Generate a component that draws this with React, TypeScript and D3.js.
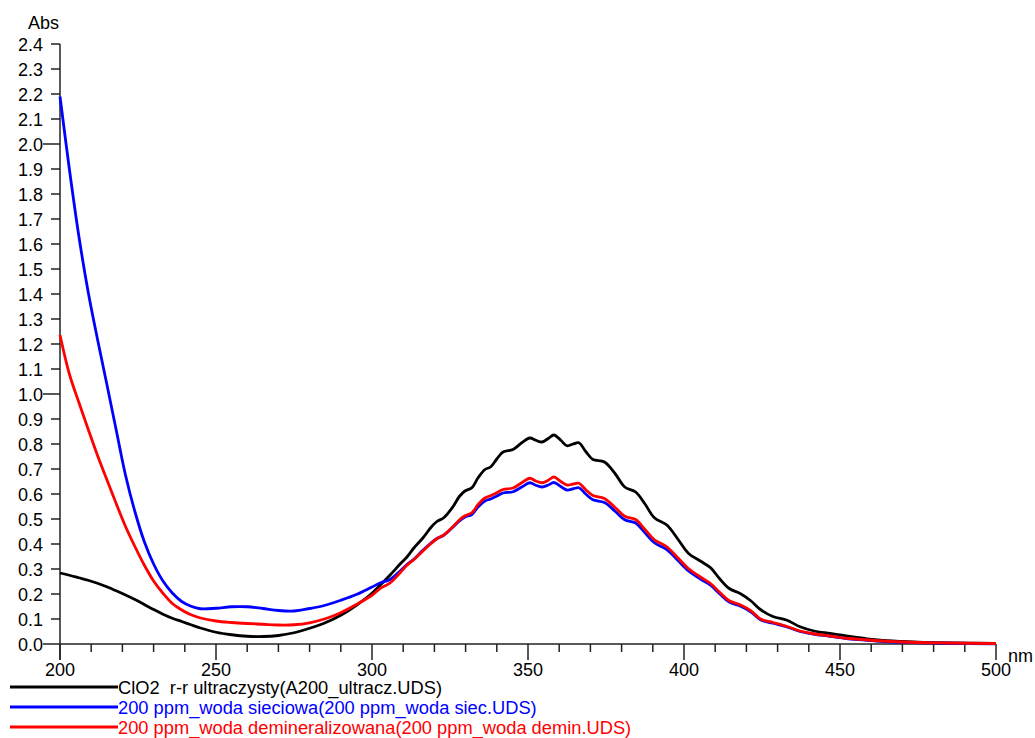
import React from "react";
import * as d3 from "d3";

const wavelengths = [
  200, 203, 206, 209, 212, 215, 218, 221, 224, 227, 230, 233, 236, 239, 242, 245,
  250, 255, 260, 265, 270, 275, 280, 285, 290, 295,
  300, 302.6, 305.8, 309, 311.2, 313.5, 316.3, 319, 320.8, 323, 326, 328, 329.8, 332, 334, 336.2, 338, 340, 342, 345.2, 348, 350.6, 352.5, 354.5, 356.5, 358.3, 360.5, 362.5, 364.5, 366.3,
  368.5, 370.8, 374.5, 378, 381, 384.5, 387.5, 390.5, 394.5, 398, 401.5, 405.5, 408.5, 411.5, 414.5, 418, 421.5, 424.5, 428.5, 433, 437.2, 441.4, 446.8, 452, 458, 465, 475, 485, 500,
];

const absUltra = [
  0.284, 0.275, 0.265, 0.255, 0.243, 0.229, 0.213, 0.196, 0.178, 0.158, 0.138, 0.119, 0.103, 0.09, 0.077, 0.064,
  0.047, 0.037, 0.031, 0.03, 0.034, 0.045, 0.063, 0.085, 0.115, 0.155,
  0.203, 0.235, 0.276, 0.32, 0.348, 0.385, 0.424, 0.468, 0.49, 0.505, 0.55, 0.59, 0.612, 0.625, 0.665, 0.698, 0.708, 0.74, 0.768, 0.778, 0.805, 0.824, 0.815, 0.808, 0.822, 0.836, 0.815, 0.793, 0.8, 0.805,
  0.77, 0.738, 0.728, 0.68, 0.628, 0.608, 0.56, 0.505, 0.476, 0.42, 0.362, 0.33, 0.305, 0.26, 0.222, 0.202, 0.172, 0.138, 0.11, 0.095, 0.069, 0.053, 0.042, 0.032, 0.022, 0.013, 0.007, 0.004, 0.002,
];

const absSieciowa = [
  2.19, 1.9, 1.635, 1.41, 1.22, 1.04, 0.857, 0.675, 0.53, 0.41, 0.32, 0.252, 0.204, 0.17, 0.151, 0.141,
  0.143, 0.149, 0.149, 0.142, 0.134, 0.132, 0.142, 0.155, 0.175, 0.198,
  0.228, 0.244, 0.258, 0.292, 0.318, 0.34, 0.375, 0.405, 0.422, 0.435, 0.468, 0.492, 0.508, 0.518, 0.548, 0.572, 0.58, 0.592, 0.604, 0.609, 0.628, 0.645, 0.635, 0.628, 0.636, 0.646, 0.63, 0.616, 0.621, 0.625,
  0.6, 0.577, 0.566, 0.53, 0.497, 0.484, 0.445, 0.405, 0.378, 0.335, 0.292, 0.258, 0.235, 0.2, 0.168, 0.152, 0.128, 0.097, 0.083, 0.068, 0.05, 0.04, 0.031, 0.022, 0.016, 0.009, 0.005, 0.003, 0.001,
];

const absDemin = [
  1.236, 1.08, 0.968, 0.86, 0.755, 0.658, 0.562, 0.47, 0.39, 0.316, 0.252, 0.203, 0.162, 0.136, 0.117, 0.104,
  0.092, 0.086, 0.082, 0.079, 0.076, 0.077, 0.085, 0.101, 0.125, 0.158,
  0.195, 0.222, 0.244, 0.285, 0.315, 0.338, 0.372, 0.403, 0.421, 0.436, 0.47, 0.496, 0.513, 0.525, 0.558, 0.584, 0.593, 0.605, 0.618, 0.624, 0.645, 0.663, 0.652, 0.645, 0.655, 0.668, 0.65, 0.636, 0.64, 0.643,
  0.617, 0.594, 0.582, 0.545, 0.511, 0.498, 0.458, 0.417, 0.389, 0.345, 0.301, 0.266, 0.242, 0.206, 0.173, 0.157, 0.132, 0.1, 0.086, 0.07, 0.052, 0.041, 0.032, 0.023, 0.017, 0.011, 0.006, 0.004, 0.002,
];

const seriesNames = [
  "ClO2  r-r ultraczysty(A200_ultracz.UDS)",
  "200 ppm_woda sieciowa(200 ppm_woda siec.UDS)",
  "200 ppm_woda demineralizowana(200 ppm_woda demin.UDS)",
];
const seriesColors = ["#000000", "#0000ff", "#ff0000"];

const yTickValues = [0, 0.1, 0.2, 0.3, 0.4, 0.5, 0.6, 0.7, 0.8, 0.9, 1.0, 1.1, 1.2, 1.3, 1.4, 1.5, 1.6, 1.7, 1.8, 1.9, 2.0, 2.1, 2.2, 2.3, 2.4];
const xMajorTicks = [200, 250, 300, 350, 400, 450, 500];
const xMinorTicks = [210, 220, 230, 240, 260, 270, 280, 290, 310, 320, 330, 340, 360, 370, 380, 390, 410, 420, 430, 440, 460, 470, 480, 490];

const FONT = "'Liberation Sans', Arial, sans-serif";

export default function App() {
  const x = d3.scaleLinear().domain([200, 500]).range([60, 996]);
  const y = d3.scaleLinear().domain([0, 2.4]).range([644, 44]);
  const series = [absUltra, absSieciowa, absDemin];
  const line = d3
    .line<number>()
    .x((_, i) => x(wavelengths[i]))
    .y((d) => y(d))
    .curve(d3.curveCatmullRom.alpha(0.5));

  const axisColor = "#222";

  return (
    <svg
      width={1035}
      height={738}
      style={{ position: "absolute", left: 0, top: 0, background: "#fff" }}
      fontFamily={FONT}
      fontSize={18}
    >
      {/* Y axis */}
      <line x1={x(200)} x2={x(200)} y1={y(2.4)} y2={y(0) + 16} stroke={axisColor} strokeWidth={1.5} />
      {yTickValues.map((v) => {
        const major = Math.abs(v - Math.round(v)) < 1e-9;
        return (
          <g key={"yt" + v}>
            <line x1={x(200) - (major ? 17 : 9)} x2={x(200)} y1={y(v)} y2={y(v)} stroke={axisColor} strokeWidth={1.5} />
            <text x={43} y={y(v) + 6.5} textAnchor="end" fill="#000">
              {v.toFixed(1)}
            </text>
          </g>
        );
      })}
      <text x={28} y={29} fill="#000">Abs</text>

      {/* X axis */}
      <line x1={x(200)} x2={x(500)} y1={y(0)} y2={y(0)} stroke={axisColor} strokeWidth={1.5} />
      {xMinorTicks.map((v) => (
        <line key={"xm" + v} x1={x(v)} x2={x(v)} y1={y(0)} y2={y(0) + 8} stroke={axisColor} strokeWidth={1.5} />
      ))}
      {xMajorTicks.map((v) => (
        <g key={"xM" + v}>
          <line x1={x(v)} x2={x(v)} y1={y(0)} y2={y(0) + 16} stroke={axisColor} strokeWidth={1.5} />
          <text x={x(v)} y={676} textAnchor="middle" fill="#000">
            {v}
          </text>
        </g>
      ))}
      <text x={1008} y={662} fill="#000">nm</text>

      {/* Curves */}
      {series.map((s, i) => (
        <path key={"s" + i} d={line(s) || ""} fill="none" stroke={seriesColors[i]} strokeWidth={2.8} strokeLinejoin="round" />
      ))}

      {/* Legend */}
      {seriesNames.map((name, i) => {
        const ly = 687 + i * 20;
        return (
          <g key={"lg" + i}>
            <line x1={10} x2={118} y1={ly} y2={ly} stroke={seriesColors[i]} strokeWidth={3} />
            <text x={118} y={ly + 6.5} fill={seriesColors[i]} fontSize={18.3} style={{ whiteSpace: "pre" }}>
              {name}
            </text>
          </g>
        );
      })}
    </svg>
  );
}
